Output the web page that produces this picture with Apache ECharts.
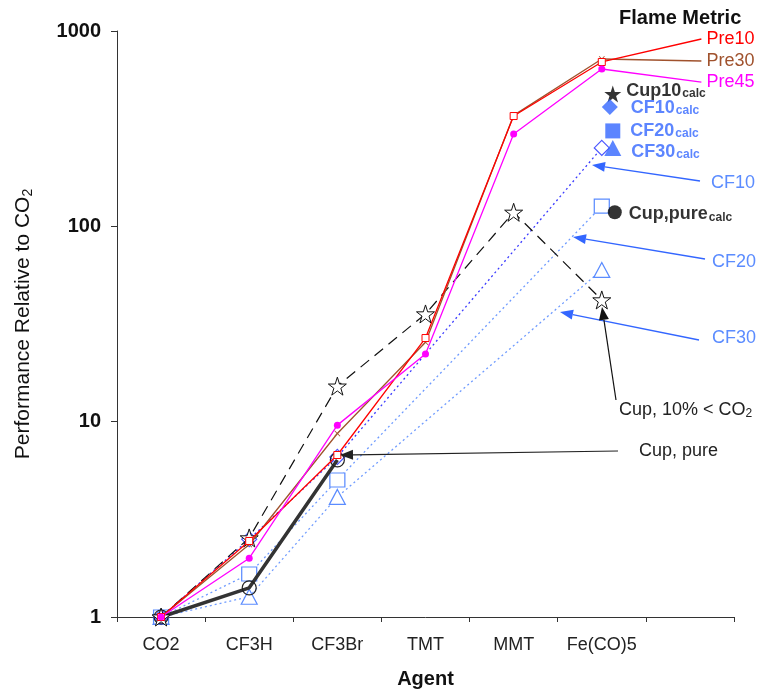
<!DOCTYPE html>
<html><head><meta charset="utf-8">
<script src="https://cdn.jsdelivr.net/npm/echarts@6/dist/echarts.min.js"></script>
<style>html,body{margin:0;padding:0;background:#fff}#c{width:768px;height:691px}</style>
</head><body><div id="c"></div>
<script>
// ---------- data ----------
const agents = ['CO2', 'CF3H', 'CF3Br', 'TMT', 'MMT', 'Fe(CO)5', ''];
const yTicks = [1, 10, 100, 1000];
// Flame-metric series (per agent)
const pre10 = [1, 2.45, 6.75, 26.8, 367, 694];
const pre30 = [1, 2.35, 8.7, 25.5, 370, 719];
const pre45 = [1, 2.0, 9.6, 22.2, 297, 639];
// end of the label leader lines
const pre10Lead = 910, pre30Lead = 702, pre45Lead = 548;
const leaderX = 6.13;
// cup burner / flame series
const cup10 = [1, 2.54, 15.2, 35.6, 118, 42];
const cupPure = [1, 1.41, 6.37];
const cf10 = [1, 2.5, 6.6, null, null, 252];
const cf20 = [1, 1.66, 5.03, null, null, 127];
const cf30 = [1, 1.27, 4.12, null, null, 59.8];
// calculated values for Fe(CO)5
const cup10Calc = 476, cf10Calc = 408, cf20Calc = 308, cf30Calc = 252, cupPureCalc = 118;
const feIndex = 5;

// ---------- helpers ----------
const FF = '"Liberation Sans", Arial, Helvetica, sans-serif';
const xy = arr => arr.map((v, i) => v == null ? null : [i, v]).filter(Boolean);
const STAR = 'path://M50,2 L61.8,37.6 L99,37.6 L69,59.6 L80.4,95 L50,73.2 L19.6,95 L31,59.6 L1,37.6 L38.2,37.6 Z';
const XMARK = 'path://M0,1 L1,0 L5,4 L9,0 L10,1 L6,5 L10,9 L9,10 L5,6 L1,10 L0,9 L4,5 Z';
const blueDark = '#3a3aff', blueLight = '#6f9bff', blueCalc = '#3366ff', blueText = '#5b8cff';

function preSeries(name, vals, lead, color, symbol, size, filled) {
  const d = xy(vals);
  d.push({
    value: [leaderX, lead], symbol: 'circle', symbolSize: 0,
    label: { show: true, position: 'right', distance: 5, formatter: name,
      color: color, fontSize: 18, fontFamily: FF }
  });
  return {
    name, type: 'line', xAxisIndex: 1, data: d, z: 4,
    symbol, symbolSize: size,
    lineStyle: { color, width: 1.3 },
    itemStyle: { color: filled ? color : '#fff', borderColor: color, borderWidth: filled ? 0 : 1 },
    emphasis: { disabled: true }
  };
}
function calcSeries(name, val, symbol, size, color, off, dist, lblOff, textColor) {
  return {
    name: name + 'calc', type: 'scatter', xAxisIndex: 1, z: 6,
    data: [[feIndex, val]], symbol, symbolSize: size, symbolOffset: [off, 0],
    itemStyle: { color },
    label: {
      show: true, position: 'right', distance: dist, offset: [0, lblOff],
      formatter: '{m|' + name + '}{s|calc}',
      rich: {
        m: { fontSize: 18, fontWeight: 'bold', color: textColor, fontFamily: FF, verticalAlign: 'bottom', lineHeight: 22 },
        s: { fontSize: 12, fontWeight: 'bold', color: textColor, fontFamily: FF, verticalAlign: 'bottom', lineHeight: 13, padding: [10, 0, 0, 1] }
      }
    },
    emphasis: { disabled: true }
  };
}
function arrow(x1, y1, x2, y2, color, w) {
  const a = Math.atan2(y2 - y1, x2 - x1), L = 13, H = 5;
  const bx = x2 - L * Math.cos(a), by = y2 - L * Math.sin(a);
  const nx = -Math.sin(a) * H, ny = Math.cos(a) * H;
  return [
    { type: 'line', silent: true, z: 10, shape: { x1, y1, x2: bx, y2: by }, style: { stroke: color, lineWidth: w } },
    { type: 'polygon', silent: true, z: 10, shape: { points: [[x2, y2], [bx + nx, by + ny], [bx - nx, by - ny]] }, style: { fill: color } }
  ];
}
function txt(x, y, text, color, font, rich) {
  const s = { text, fill: color, font, align: 'left', verticalAlign: 'middle' };
  if (rich) s.rich = rich;
  return { type: 'text', silent: true, z: 10, x, y, style: s };
}

const chart = echarts.init(document.getElementById('c'), null, { renderer: 'canvas' });
const option = {
  animation: false,
  backgroundColor: '#fff',
  grid: { left: 117, right: 34, top: 31, bottom: 74, containLabel: false, outerBoundsMode: 'none' },
  xAxis: [
    {
      type: 'category', data: agents, boundaryGap: true,
      name: 'Agent', nameLocation: 'middle', nameGap: 52,
      nameTextStyle: { fontSize: 20, fontWeight: 'bold', color: '#111', fontFamily: FF },
      axisLine: { onZero: false, lineStyle: { color: '#333', width: 1 } },
      axisTick: { show: true, alignWithLabel: false, length: 5, lineStyle: { color: '#333' } },
      axisLabel: { fontSize: 18, color: '#222', fontFamily: FF, margin: 19, interval: 0 },
      splitLine: { show: false }
    },
    { type: 'value', min: -0.5, max: 6.5, show: false }
  ],
  yAxis: {
    type: 'log', logBase: 10, min: yTicks[0], max: yTicks[yTicks.length - 1],
    name: 'Performance Relative to CO{s|2}', nameLocation: 'middle', nameGap: 82,
    nameTextStyle: {
      fontSize: 21, color: '#111', fontFamily: FF,
      rich: { s: { fontSize: 14, color: '#111', fontFamily: FF, verticalAlign: 'bottom', padding: [9, 0, 0, 0] } }
    },
    axisLine: { show: true, onZero: false, lineStyle: { color: '#333', width: 1 } },
    axisTick: { show: true, length: 6, lineStyle: { color: '#333' } },
    minorTick: { show: false },
    axisLabel: { fontSize: 20, fontWeight: 'bold', color: '#111', fontFamily: FF, margin: 16,
      formatter: v => String(Math.round(v)) },
    splitLine: { show: false }
  },
  series: [
    { name: 'CF30', type: 'line', xAxisIndex: 1, data: xy(cf30), z: 2,
      symbol: 'triangle', symbolSize: [16, 15],
      lineStyle: { color: blueLight, width: 1.3, type: [2, 3] },
      itemStyle: { color: '#fff', borderColor: blueText, borderWidth: 1.2 }, emphasis: { disabled: true } },
    { name: 'CF20', type: 'line', xAxisIndex: 1, data: xy(cf20), z: 2,
      symbol: 'rect', symbolSize: [15, 14],
      lineStyle: { color: blueLight, width: 1.3, type: [2, 3] },
      itemStyle: { color: '#fff', borderColor: blueText, borderWidth: 1.2 }, emphasis: { disabled: true } },
    { name: 'CF10', type: 'line', xAxisIndex: 1, data: xy(cf10), z: 2,
      symbol: 'diamond', symbolSize: 15,
      lineStyle: { color: blueDark, width: 1.3, type: [2, 3] },
      itemStyle: { color: '#fff', borderColor: '#4a55ff', borderWidth: 1.2 }, emphasis: { disabled: true } },
    { name: 'Cup, pure', type: 'line', xAxisIndex: 1, data: xy(cupPure), z: 3,
      symbol: 'circle', symbolSize: 14,
      lineStyle: { color: '#333', width: 3.5 },
      itemStyle: { color: 'rgba(255,255,255,0)', borderColor: '#222', borderWidth: 1.2 }, emphasis: { disabled: true } },
    { name: 'Cup10', type: 'line', xAxisIndex: 1, data: xy(cup10), z: 3,
      symbol: STAR, symbolSize: 18,
      lineStyle: { color: '#111', width: 1.2, type: [11, 7] },
      itemStyle: { color: '#fff', borderColor: '#111', borderWidth: 1 }, emphasis: { disabled: true } },
    preSeries('Pre30', pre30, pre30Lead, '#a0522d', XMARK, 6, true),
    preSeries('Pre10', pre10, pre10Lead, '#ff0000', 'rect', 7, false),
    preSeries('Pre45', pre45, pre45Lead, '#ff00ff', 'circle', 7, true),
    calcSeries('Cup10', cup10Calc, STAR, 17, '#000', 11, 5, -5, '#000'),
    calcSeries('CF10', cf10Calc, 'diamond', 16, blueCalc, 8, 13, -1, blueCalc),
    calcSeries('CF20', cf20Calc, 'rect', 15, blueCalc, 11, 10, -2, blueCalc),
    calcSeries('CF30', cf30Calc, 'triangle', [17, 16], blueCalc, 11, 10, 2, blueCalc),
    calcSeries('Cup,pure', cupPureCalc, 'circle', 14, '#000', 13, 7, 0, '#000')
  ],
  graphic: [
    txt(619, 18, 'Flame Metric', '#111', 'bold 20px ' + FF),
    ...arrow(700, 181, 592, 165, blueCalc, 1.3),
    ...arrow(705, 259, 573, 237, blueCalc, 1.3),
    ...arrow(699, 340, 560, 312, blueCalc, 1.3),
    txt(711, 183, 'CF10', blueText, '18px ' + FF),
    txt(712, 262, 'CF20', blueText, '18px ' + FF),
    txt(712, 338, 'CF30', blueText, '18px ' + FF),
    ...arrow(616, 400, 602, 307, '#111', 1.2),
    ...arrow(618, 451, 340, 455, '#222', 1.2),
    txt(619, 410, 'Cup, 10% < CO{s|2}', '#222', '18px ' + FF,
      { s: { fontSize: 12, fill: '#222', font: '12px ' + FF, verticalAlign: 'bottom', padding: [8, 0, 0, 0] } }),
    txt(639, 451, 'Cup, pure', '#222', '18px ' + FF)
  ]
};
chart.setOption(option);
</script>
</body></html>
